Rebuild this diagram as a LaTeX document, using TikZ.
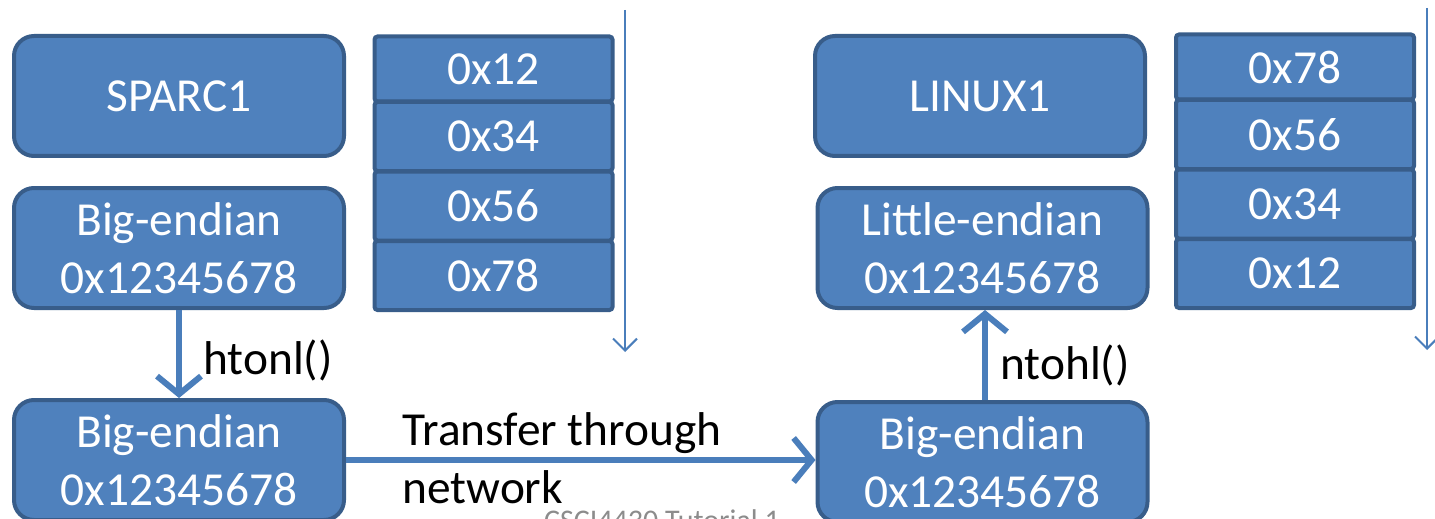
\documentclass[tikz,border=0pt]{standalone}
\usepackage{fontspec}
\setmainfont{Carlito}
\usetikzlibrary{arrows.meta}
\definecolor{boxfill}{HTML}{4F81BD}
\definecolor{boxline}{HTML}{385D8A}
\definecolor{arrowc}{HTML}{4A7EBB}
\definecolor{footgray}{HTML}{8C8C8C}
\tikzset{
  hostbox/.style={draw=boxline, fill=boxfill, line width=2pt, rounded corners=10pt,
    minimum width=165pt, minimum height=60pt, text=white, align=center,
    font=\fontsize{23.7}{29}\selectfont, inner sep=0pt},
  memcell/.style={draw=boxline, fill=boxfill, line width=2pt, rounded corners=1.5pt,
    minimum width=119pt, minimum height=34.5pt, text=white,
    font=\fontsize{23.7}{29}\selectfont, inner sep=0pt},
  memarrow/.style={draw=arrowc, line width=1pt, -{Straight Barb[length=6pt,width=12pt]}},
  conn/.style={draw=arrowc, line width=3pt, -{Straight Barb[length=9pt,width=22pt]}},
  lbl/.style={text=black, font=\fontsize{23.7}{29}\selectfont, inner sep=0pt, align=left},
}
\begin{document}
\begin{tikzpicture}[x=0.5pt,y=-0.5pt]
\useasboundingbox (0,0) rectangle (1435,519);
% left side
\node[hostbox] (sparc) at (179,96) {SPARC1};
\node[hostbox] (bigA) at (179,248) {Big-endian\\0x12345678};
\node[hostbox] (bigB) at (179,460) {Big-endian\\0x12345678};
\node[memcell, minimum height=32.5pt] (l1) at (493.5,69) {0x12};
\node[memcell] (l2) at (493.5,136.5) {0x34};
\node[memcell] (l3) at (493.5,206) {0x56};
\node[memcell] (l4) at (493.5,275.5) {0x78};
\coordinate (la1) at (625,10);
\coordinate (la2) at (625,352);
\draw[memarrow] (la1) -- (la2);
% right side
\node[hostbox] (linux) at (980,96) {LINUX1};
\node[hostbox] (little) at (982.5,248) {Little-endian\\0x12345678};
\node[hostbox] (bigC) at (982.5,462) {Big-endian\\0x12345678};
\node[memcell, minimum height=32.5pt] (r1) at (1295,67) {0x78};
\node[memcell] (r2) at (1295,134.5) {0x56};
\node[memcell] (r3) at (1295,204) {0x34};
\node[memcell] (r4) at (1295,273.5) {0x12};
\coordinate (ra1) at (1427,8);
\coordinate (ra2) at (1427,350);
\draw[memarrow] (ra1) -- (ra2);
% connectors
\draw[conn] (bigA.south -| 179,0) -- (bigB.north -| 179,0);
\node[lbl, anchor=west] (hton) at (203,360) {htonl()};
\draw[conn] (bigC.north -| 985,0) -- (little.south -| 985,0);
\node[lbl, anchor=west] (ntoh) at (1000,365) {ntohl()};
\draw[conn] (bigB.east |- 0,460) -- (bigC.west |- 0,460);
\node[lbl, anchor=west] (xfer) at (402,458) {Transfer through\\network};
% footer (cut off)
\node[text=footgray, font=\fontsize{15}{18}\selectfont, inner sep=0pt, anchor=base] (foot) at (662,530) {CSCI4430 Tutorial 1};
\end{tikzpicture}
\end{document}
